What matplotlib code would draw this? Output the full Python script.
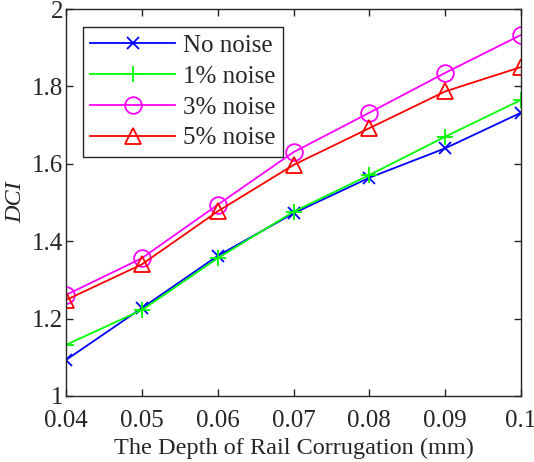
import matplotlib
matplotlib.use('Agg')
import matplotlib.pyplot as plt
import numpy as np

# 데이터
depth = [0.04, 0.05, 0.06, 0.07, 0.08, 0.09, 0.1]
no_noise = [1.093, 1.227, 1.362, 1.472, 1.564, 1.640, 1.732]
noise_1 = [1.132, 1.222, 1.356, 1.476, 1.571, 1.670, 1.765]
noise_3 = [1.261, 1.356, 1.494, 1.630, 1.732, 1.835, 1.933]
noise_5 = [1.248, 1.340, 1.477, 1.597, 1.692, 1.787, 1.850]
xticks = [0.04, 0.05, 0.06, 0.07, 0.08, 0.09, 0.1]
xticklabels = ['0.04', '0.05', '0.06', '0.07', '0.08', '0.09', '0.1']
yticks = [1, 1.2, 1.4, 1.6, 1.8, 2]
yticklabels = ['1', '1.2', '1.4', '1.6', '1.8', '2']

plt.rcParams['font.family'] = ['Liberation Serif', 'DejaVu Serif']
tc = '#262626'

fig = plt.figure(figsize=(5.34, 4.62), dpi=100)
ax = fig.add_axes([0.1236, 0.143, 0.8521, 0.8375])

lw = 1.3
ax.plot(depth, no_noise, '-x', color='#0000ff', lw=lw, ms=9, mew=1.3, label='No noise')
ax.plot(depth, noise_1, '-+', color='#00ff00', lw=lw, ms=12, mew=1.3, label='1% noise')
ax.plot(depth, noise_3, '-o', color='#ff00ff', lw=lw, ms=12, mew=1.3, mfc='none', label='3% noise')
ax.plot(depth, noise_5, '-^', color='#ff0000', lw=lw, ms=12, mew=1.3, mfc='none', label='5% noise')

ax.set_xlim(0.04, 0.1)
ax.set_ylim(1, 2)
ax.set_xticks(xticks)
ax.set_xticklabels(xticklabels)
ax.set_yticks(yticks)
ax.set_yticklabels(yticklabels)
ax.tick_params(direction='in', top=True, right=True, length=5, width=1,
               labelsize=18, colors=tc)
ax.tick_params(axis='x', pad=10)
ax.tick_params(axis='y', pad=2)
for s in ax.spines.values():
    s.set_color(tc)
    s.set_linewidth(1)

ax.set_xlabel('The Depth of Rail Corrugation (mm)', fontsize=17.5, color=tc, labelpad=4)
ax.set_ylabel('DCI', fontsize=17.5, color=tc, style='italic', labelpad=4)

leg = ax.legend(loc='upper left', bbox_to_anchor=(0.037, 0.953), borderaxespad=0,
                fontsize=18, fancybox=False, framealpha=1, edgecolor=tc,
                handlelength=3.4, handletextpad=0.3, labelspacing=0.33,
                borderpad=0.3)
leg.get_frame().set_linewidth(1)
for t in leg.get_texts():
    t.set_color(tc)

fig.savefig('out.png', dpi=100)
